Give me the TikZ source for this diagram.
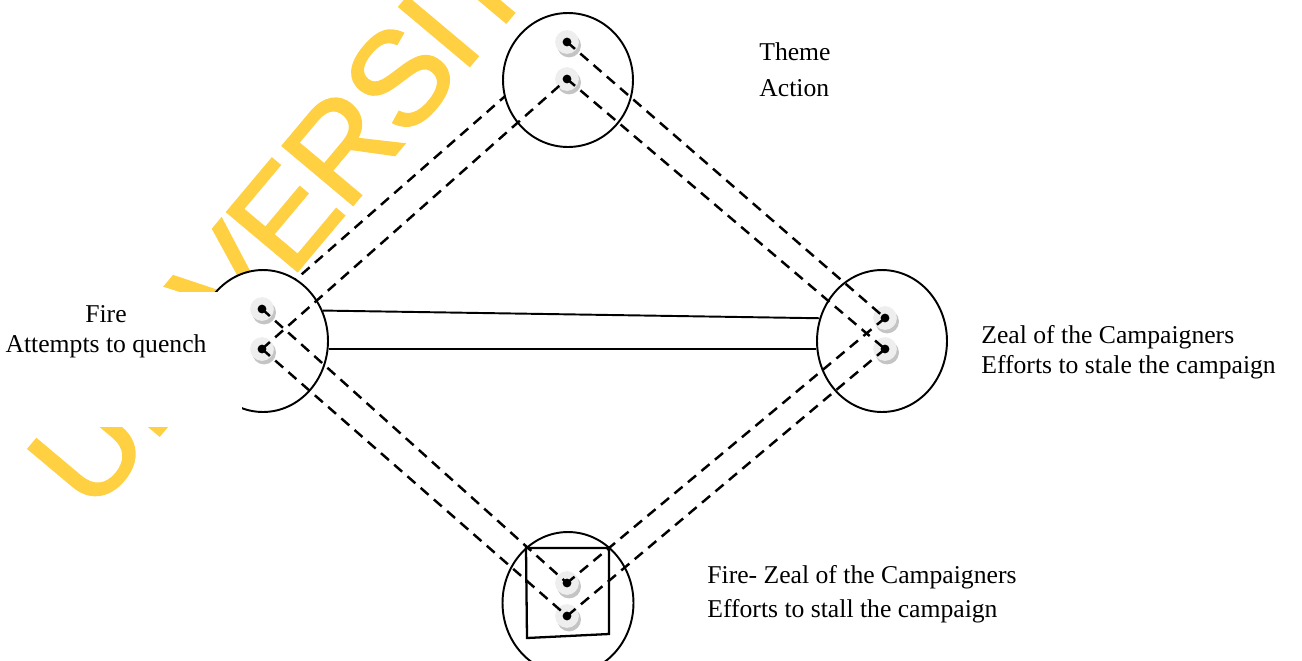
\documentclass[tikz,border=0pt]{standalone}
\usepackage{fontspec}
\setmainfont{Liberation Serif}
\newfontfamily\markfont[FakeBold=1.6, LetterSpace=-2]{Liberation Sans}
\usetikzlibrary{shapes.geometric,shadows}

\definecolor{markyellow}{RGB}{255,208,66}
\definecolor{pinface}{RGB}{238,238,238}
\definecolor{pinrim}{RGB}{196,196,196}

\begin{document}
\begin{tikzpicture}[x=0.02cm, y=-0.02cm,
    bubble/.style={ellipse, draw, line width=1.1pt, fill=white, inner sep=0pt,
      minimum width=2.6cm, minimum height=2.84cm},
    pushpin/.style={circle, inner sep=0pt, minimum size=13.5pt, fill=pinface,
      drop shadow={shadow xshift=1.2pt, shadow yshift=-2pt, fill=pinrim, opacity=1},
      path picture={\fill[black] (path picture bounding box.center) circle (2.5pt);}},
    link/.style={line width=1.4pt, dash pattern=on 6pt off 4pt},
    bar/.style={line width=1.1pt},
    txt/.style={inner sep=0pt, font=\fontsize{14.6}{17}\selectfont}]

    \useasboundingbox (0,0) rectangle (1302,660);
    \clip (0,0) rectangle (1302,660);

    % Watermark
    \node[rotate=50, anchor=base west, inner sep=0pt, text=markyellow,
      font=\markfont\fontsize{76}{76}\selectfont] (mark) at (92,516) {UNIVERSITY};

    % Pins (placed first so the hidden link can go under the circles)
    \coordinate (t1) at (567,42);
    \coordinate (l1) at (262,309);
    \draw[link] (l1) -- (t1);

    % Circles
    \node[bubble, minimum height=2.68cm] (tc) at (568,80) {};
    \node[bubble] (lc) at (263,341) {};
    \node[bubble] (rc) at (882,341) {};
    \node[bubble, minimum width=2.62cm] (bc) at (568,603) {};

    % Pins
    \node[pushpin] (tp1) at (t1) {};
    \node[pushpin] (tp2) at (567,79) {};
    \node[pushpin] (lp1) at (l1) {};
    \node[pushpin] (lp2) at (262,349) {};
    \node[pushpin] (rp1) at (885,318) {};
    \node[pushpin] (rp2) at (885,349) {};
    \node[pushpin] (bp1) at (567,583) {};
    \node[pushpin] (bp2) at (567,616) {};

    % Dashed links between the pins
    \draw[link] (lp2.center) -- (tp2.center);
    \draw[link] (tp1.center) -- (rp1.center);
    \draw[link] (tp2.center) -- (rp2.center);
    \draw[link] (rp1.center) -- (bp1.center);
    \draw[link] (rp2.center) -- (bp2.center);
    \draw[link] (lp1.center) -- (bp1.center);
    \draw[link] (lp2.center) -- (bp2.center);

    % Solid bars between left and right
    \draw[bar] (lc.27.7) -- (rc.160.2);
    \draw[bar] (lc.-7.9) -- (rc.187.9);

    % Frame in the bottom circle
    \draw[line width=1.3pt] (526,548) -- (609,548) -- (609,634) -- (527,638) -- cycle;

    % Labels
    \fill[white] (0,292) rectangle (242,427);
    \node[txt, align=center, anchor=north] (fire) at (106,305.4) {Fire\\Attempts to quench};
    \node[txt, align=left, anchor=north west, font=\fontsize{14.6}{20.4}\selectfont]
      (theme) at (759,42.4) {Theme\\Action};
    \node[txt, align=left, anchor=north west] (zeal) at (981,325.4)
      {Zeal of the Campaigners\\Efforts to stale the campaign};
    \node[txt, align=left, anchor=north west, font=\fontsize{14.6}{19.3}\selectfont]
      (both) at (707,565.4) {Fire- Zeal of the Campaigners\\Efforts to stall the campaign};
\end{tikzpicture}
\end{document}
